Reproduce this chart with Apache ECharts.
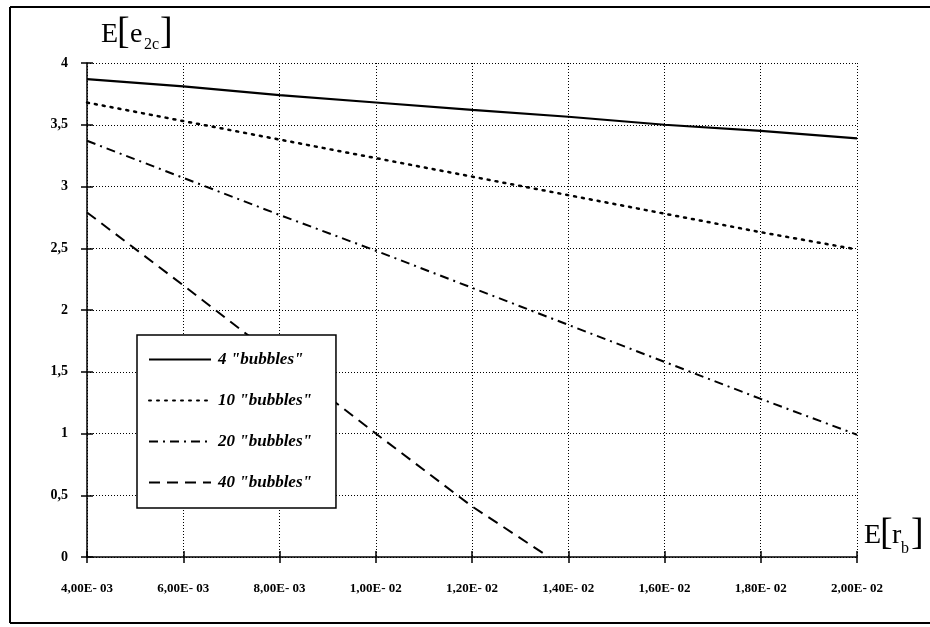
<!DOCTYPE html>
<html>
<head>
<meta charset="utf-8">
<script src="https://cdn.jsdelivr.net/npm/echarts@6/dist/echarts.min.js"></script>
<style>
  html, body { margin: 0; padding: 0; background: #fff; }
  #chart { width: 930px; height: 627px; }
</style>
</head>
<body>
<div id="chart"></div>
<script>
// Mean bubble radius E[r_b] (x) and expected value E[e_2c] (y)
const xValues   = [0.004, 0.006, 0.008, 0.010, 0.012, 0.014, 0.016, 0.018, 0.020];
const bubbles4  = [3.87, 3.81, 3.74, 3.68, 3.62, 3.565, 3.50, 3.45, 3.39];
const bubbles10 = [3.68, 3.53, 3.38, 3.23, 3.08, 2.93, 2.78, 2.63, 2.49];
const bubbles20 = [3.37, 3.07, 2.77, 2.48, 2.18, 1.88, 1.58, 1.28, 0.99];
const bubbles40X = [0.004, 0.006, 0.008, 0.010, 0.012, 0.0136];
const bubbles40  = [2.79, 2.20, 1.60, 1.00, 0.41, 0];
const seriesNames = ['4 "bubbles"', '10 "bubbles"', '20 "bubbles"', '40 "bubbles"'];

const SERIF = '"Liberation Serif", "DejaVu Serif", serif';

function pairs(xs, ys) { return xs.map((x, i) => [x, ys[i]]); }

// Spreadsheet-style scientific label, e.g. 4,00E- 03
function sciLabel(v) {
  const e = Math.floor(Math.log10(v) + 1e-9);
  const m = v / Math.pow(10, e);
  const sign = e < 0 ? '- ' : '+ ';
  return m.toFixed(2).replace('.', ',') + 'E' + sign + String(Math.abs(e)).padStart(2, '0');
}

const gridLine = { show: true, lineStyle: { color: '#000', width: 1, type: [1, 2] } };

const xBase = { type: 'value', min: 0.004, max: 0.02, interval: 0.002, gridIndex: 0 };
const yBase = { type: 'value', min: 0, max: 4, interval: 0.5, gridIndex: 0 };

function mkSeries(name, data, lineStyle) {
  return {
    name, type: 'line', data, symbol: 'none', showSymbol: false,
    xAxisIndex: 0, yAxisIndex: 0, animation: false, silent: true,
    itemStyle: { color: '#000' },
    lineStyle: Object.assign({ color: '#000', width: 2 }, lineStyle)
  };
}

// Text element centred vertically on y
function textEl(x, y, text, size) {
  return {
    type: 'text', x, y, z: 20,
    style: { text, font: size + 'px ' + SERIF, fill: '#000', verticalAlign: 'middle', align: 'left' }
  };
}

const chart = echarts.init(document.getElementById('chart'), null, { renderer: 'canvas' });

chart.setOption({
  animation: false,
  backgroundColor: '#fff',
  grid: { left: 87, right: 73, top: 63, bottom: 70, containLabel: false },
  xAxis: [
    Object.assign({}, xBase, {
      position: 'bottom',
      axisLine: { show: true, onZero: false, lineStyle: { color: '#000', width: 1.5 } },
      axisTick: { show: true, inside: false, length: 6, lineStyle: { color: '#000', width: 1.5 } },
      axisLabel: { show: true, margin: 25, color: '#000', fontFamily: SERIF, fontWeight: 'bold', fontSize: 13, formatter: sciLabel },
      splitLine: gridLine
    }),
    Object.assign({}, xBase, {
      position: 'bottom',
      axisLine: { show: false },
      axisTick: { show: true, inside: true, length: 6, lineStyle: { color: '#000', width: 1.5 } },
      axisLabel: { show: false },
      splitLine: { show: false }
    })
  ],
  yAxis: [
    Object.assign({}, yBase, {
      position: 'left',
      axisLine: { show: true, onZero: false, lineStyle: { color: '#000', width: 1.5 } },
      axisTick: { show: true, inside: false, length: 6, lineStyle: { color: '#000', width: 1.5 } },
      axisLabel: { show: true, margin: 19, color: '#000', fontFamily: SERIF, fontWeight: 'bold', fontSize: 14,
                   formatter: v => String(v).replace('.', ',') },
      splitLine: gridLine
    }),
    Object.assign({}, yBase, {
      position: 'left',
      axisLine: { show: false },
      axisTick: { show: true, inside: true, length: 6, lineStyle: { color: '#000', width: 1.5 } },
      axisLabel: { show: false },
      splitLine: { show: false }
    })
  ],
  legend: {
    data: seriesNames,
    orient: 'vertical',
    left: 137, top: 335,
    padding: [16, 24, 17, 11],
    itemGap: 24,
    itemWidth: 62,
    itemHeight: 14,
    backgroundColor: '#fff',
    borderColor: '#000',
    borderWidth: 1.5,
    borderRadius: 0,
    selectedMode: false,
    itemStyle: { opacity: 0 },
    textStyle: { color: '#000', fontFamily: SERIF, fontStyle: 'italic', fontWeight: 'bold', fontSize: 17, padding: [0, 0, 0, 2] },
    z: 10
  },
  series: [
    mkSeries(seriesNames[0], pairs(xValues, bubbles4),  { type: 'solid', width: 2.2 }),
    mkSeries(seriesNames[1], pairs(xValues, bubbles10), { type: [2, 6], width: 2.5, cap: 'round' }),
    mkSeries(seriesNames[2], pairs(xValues, bubbles20), { type: [9, 5, 2, 5], width: 2 }),
    mkSeries(seriesNames[3], pairs(bubbles40X, bubbles40), { type: [11, 7], width: 2 })
  ],
  graphic: [
    // page frame
    { type: 'line', z: 30, shape: { x1: 10, y1: 7, x2: 930, y2: 7 }, style: { stroke: '#000', lineWidth: 2 } },
    { type: 'line', z: 30, shape: { x1: 10, y1: 7, x2: 10, y2: 623 }, style: { stroke: '#000', lineWidth: 2 } },
    { type: 'line', z: 30, shape: { x1: 10, y1: 623, x2: 930, y2: 623 }, style: { stroke: '#000', lineWidth: 2 } },
    // y-axis title E[e_2c]
    textEl(101, 34.5, 'E', 28),
    textEl(117, 33.5, '[', 38),
    textEl(130, 34.5, 'e', 28),
    textEl(144, 45, '2c', 16),
    textEl(160, 33.5, ']', 38),
    // x-axis title E[r_b]
    textEl(864, 535.5, 'E', 28),
    textEl(880, 534.5, '[', 38),
    textEl(892, 535.5, 'r', 28),
    textEl(901, 549, 'b', 16),
    textEl(911, 534.5, ']', 38)
  ]
});
</script>
</body>
</html>
